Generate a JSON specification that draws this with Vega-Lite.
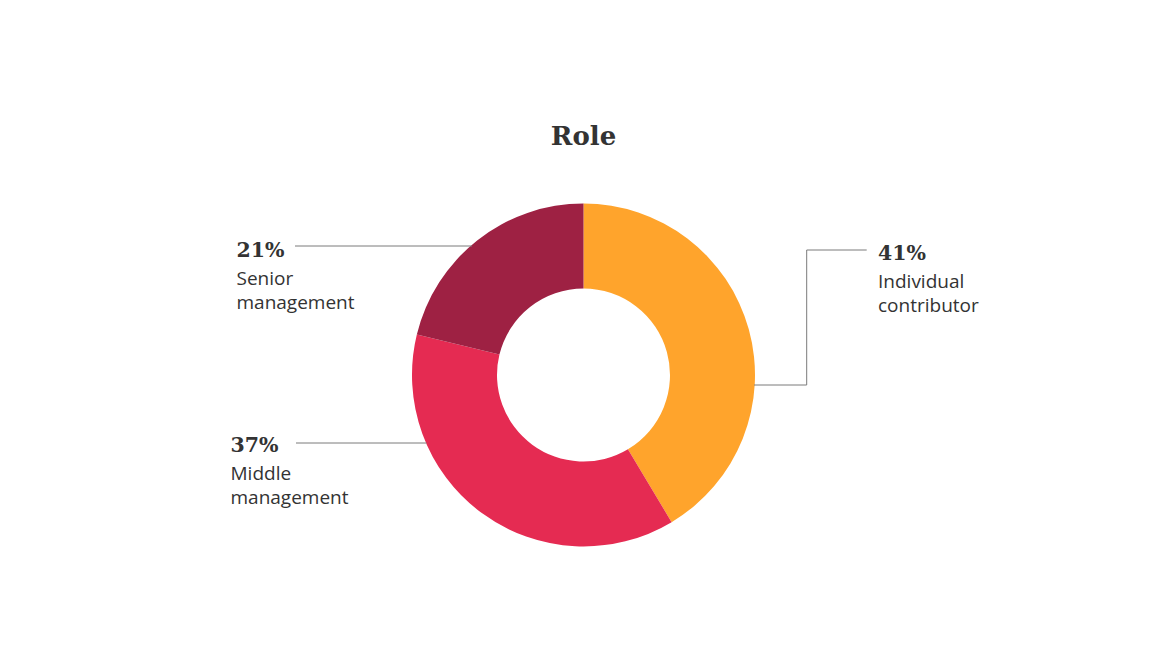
{
  "$schema": "https://vega.github.io/schema/vega-lite/v6.json",
  "background": "white",
  "autosize": "none",
  "width": 1167,
  "height": 430,
  "padding": {"top": 160, "bottom": 77, "left": 0, "right": 0},
  "title": {
    "text": "Role",
    "font": "DejaVu Serif",
    "fontWeight": "bold",
    "fontSize": 26,
    "color": "#333333",
    "anchor": "middle",
    "frame": "group",
    "baseline": "alphabetic",
    "offset": -11
  },
  "config": {
    "view": {"stroke": null},
    "text": {"font": "Open Sans", "color": "#333333"}
  },
  "datasets": {
    "roles": [
      {"role": "Individual contributor", "share": 0.41, "lx": 294.5, "ly": 115},
      {"role": "Middle management", "share": 0.37, "lx": -353, "ly": -77},
      {"role": "Senior management", "share": 0.21, "lx": -347, "ly": 118}
    ],
    "leaders": [
      {"role": "Individual contributor", "x": 170.5, "y": -10, "x2": 223.2, "y2": -10},
      {"role": "Individual contributor", "x": 223.2, "y": -10, "x2": 223.2, "y2": 125},
      {"role": "Individual contributor", "x": 223.2, "y": 125, "x2": 283.2, "y2": 125},
      {"role": "Senior management", "x": -288.5, "y": 129, "x2": -111.5, "y2": 129},
      {"role": "Middle management", "x": -287.5, "y": -68, "x2": -157, "y2": -68}
    ]
  },
  "layer": [
    {
      "data": {"name": "roles"},
      "mark": {"type": "arc", "radius": 171.5, "radius2": 86.5},
      "encoding": {
        "theta": {"field": "share", "type": "quantitative", "stack": true},
        "color": {
          "field": "role",
          "type": "nominal",
          "legend": null,
          "scale": {
            "domain": ["Individual contributor", "Middle management", "Senior management"],
            "range": ["#FFA42C", "#E52B52", "#9E2143"]
          }
        }
      }
    },
    {
      "data": {"name": "leaders"},
      "mark": {"type": "rule", "color": "#7a7a7a", "strokeWidth": 1},
      "encoding": {
        "x": {"field": "x", "type": "quantitative", "axis": null, "scale": {"domain": [-583.5, 583.5], "nice": false, "zero": false}},
        "y": {"field": "y", "type": "quantitative", "axis": null, "scale": {"domain": [-215, 215], "nice": false, "zero": false}},
        "x2": {"field": "x2"},
        "y2": {"field": "y2"}
      }
    },
    {
      "data": {"name": "roles"},
      "mark": {
        "type": "text",
        "font": "DejaVu Serif",
        "fontWeight": "bold",
        "fontSize": 20.5,
        "align": "left",
        "baseline": "alphabetic"
      },
      "encoding": {
        "x": {"field": "lx", "type": "quantitative", "axis": null, "scale": {"domain": [-583.5, 583.5], "nice": false, "zero": false}},
        "y": {"field": "ly", "type": "quantitative", "axis": null, "scale": {"domain": [-215, 215], "nice": false, "zero": false}},
        "text": {"field": "share", "type": "quantitative", "format": ".0%"}
      }
    },
    {
      "data": {"name": "roles"},
      "mark": {
        "type": "text",
        "fontSize": 19,
        "align": "left",
        "baseline": "alphabetic",
        "lineBreak": " ",
        "lineHeight": 24.5,
        "dy": 27.5
      },
      "encoding": {
        "x": {"field": "lx", "type": "quantitative", "axis": null, "scale": {"domain": [-583.5, 583.5], "nice": false, "zero": false}},
        "y": {"field": "ly", "type": "quantitative", "axis": null, "scale": {"domain": [-215, 215], "nice": false, "zero": false}},
        "text": {"field": "role", "type": "nominal"}
      }
    }
  ],
  "resolve": {"scale": {"color": "independent"}}
}
